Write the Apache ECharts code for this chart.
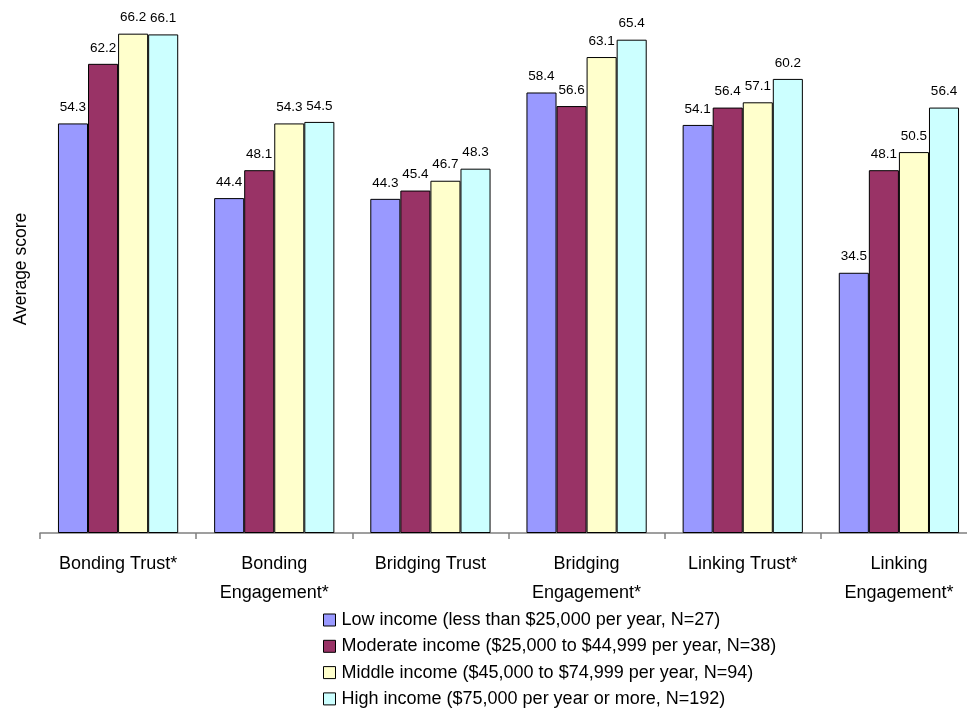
<!DOCTYPE html>
<html><head><meta charset="utf-8">
<script src="https://cdn.jsdelivr.net/npm/echarts@6/dist/echarts.min.js"></script>
<style>html,body{margin:0;padding:0;background:#fff;overflow:hidden}#c{width:977px;height:709px}</style>
</head><body><div id="c"></div>
<script>
const categories = ['Bonding Trust*', 'Bonding\nEngagement*', 'Bridging Trust', 'Bridging\nEngagement*', 'Linking Trust*', 'Linking\nEngagement*'];
const seriesNames = [
  'Low income (less than $25,000 per year, N=27)',
  'Moderate income ($25,000 to $44,999 per year, N=38)',
  'Middle income ($45,000 to $74,999 per year, N=94)',
  'High income ($75,000 per year or more, N=192)'
];
const lowIncome = [54.3, 44.4, 44.3, 58.4, 54.1, 34.5];
const moderateIncome = [62.2, 48.1, 45.4, 56.6, 56.4, 48.1];
const middleIncome = [66.2, 54.3, 46.7, 63.1, 57.1, 50.5];
const highIncome = [66.1, 54.5, 48.3, 65.4, 60.2, 56.4];
const colors = ['#9999FF', '#993366', '#FFFFCC', '#CCFFFF'];
const allData = [lowIncome, moderateIncome, middleIncome, highIncome];

const chart = echarts.init(document.getElementById('c'), null, {renderer: 'canvas'});
chart.setOption({
  animation: false,
  grid: {left: 40, top: 5, right: 0, bottom: 176, containLabel: false},
  legend: {
    orient: 'vertical', left: 318, top: 605, height: 104, width: 640,
    itemWidth: 12, itemHeight: 12, itemGap: 6.3,
    icon: 'rect',
    textStyle: {fontFamily: 'Liberation Sans, Arial, sans-serif', fontSize: 18, color: '#000', padding: [0,0,0,1], height: 20, lineHeight: 20},
    data: seriesNames.map((n, i) => ({name: n, itemStyle: {color: colors[i], borderColor: '#000', borderWidth: 1}}))
  },
  xAxis: {
    type: 'category', data: categories,
    axisLine: {lineStyle: {color: '#808080', width: 1.5}},
    axisTick: {show: true, length: 6, lineStyle: {color: '#808080', width: 1.5}},
    axisLabel: {fontFamily: 'Liberation Sans, Arial, sans-serif', fontSize: 18, color: '#000', lineHeight: 29, margin: 17, interval: 0}
  },
  yAxis: {
    type: 'value', min: 0, max: 70,
    name: 'Average score', nameLocation: 'middle', nameGap: 10, nameRotate: 90,
    nameTextStyle: {fontFamily: 'Liberation Sans, Arial, sans-serif', fontSize: 17.5, color: '#000'},
    axisLine: {show: false}, axisTick: {show: false}, axisLabel: {show: false}, splitLine: {show: false}
  },
  series: allData.map((d, i) => ({
    name: seriesNames[i], type: 'bar', data: d,
    barGap: '0%', barCategoryGap: '23%',
    itemStyle: {color: colors[i], borderColor: '#000', borderWidth: 1},
    label: {show: true, position: 'top', distance: 9, fontFamily: 'Liberation Sans, Arial, sans-serif', fontSize: 13.5, color: '#000'}
  }))
});
</script></body></html>
